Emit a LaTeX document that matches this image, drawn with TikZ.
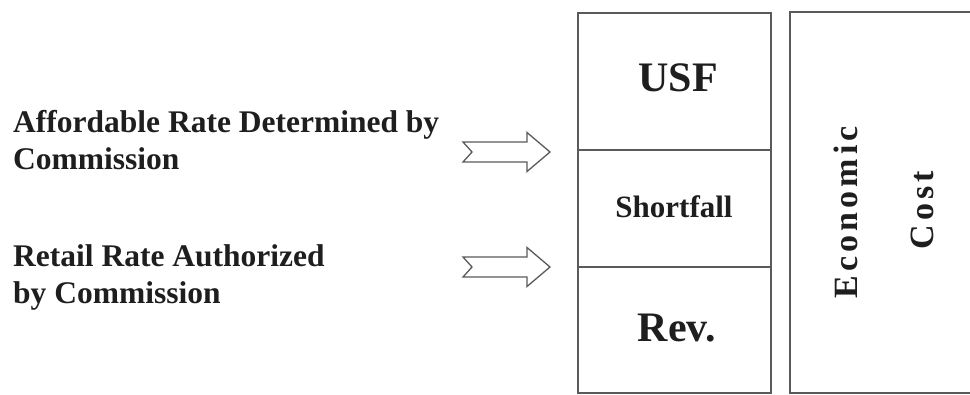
\documentclass[tikz,border=0pt]{standalone}
\usepackage{fontspec}
\setmainfont{Liberation Serif}
\newfontfamily\spacedfont[LetterSpace=12]{Liberation Serif}
\definecolor{ink}{HTML}{1E1E1E}
\definecolor{linegray}{HTML}{5A5A5A}
\begin{document}
\begin{tikzpicture}[x=1pt,y=-1pt,
  lbl/.style={anchor=base west, align=left, inner sep=0pt, text=ink,
              font=\bfseries\fontsize{31.5}{37}\selectfont},
  bigtxt/.style={anchor=base, inner sep=0pt, text=ink,
              font=\bfseries\fontsize{42}{46}\selectfont},
  midtxt/.style={anchor=base, inner sep=0pt, text=ink,
              font=\bfseries\fontsize{31}{36}\selectfont},
  verttxt/.style={anchor=base, inner sep=0pt, text=ink, rotate=90,
              font=\spacedfont\bfseries\fontsize{34}{38}\selectfont},
  boxline/.style={draw=linegray, line width=1.4pt},
  blockarrow/.style={draw=linegray, line width=1.3pt, line join=miter, fill=white}]
\useasboundingbox (0,0) rectangle (970,395);
\clip (0,0) rectangle (970,395);

% left labels (base anchor = baseline of the last line)
\node[lbl] (aff) at (13,170) {Affordable Rate Determined by\\Commission};
\node[lbl] (ret) at (13,304) {Retail Rate Authorized\\by Commission};

% block arrows
\coordinate (a1) at (463,152);
\coordinate (a2) at (463,267);
\foreach \c in {a1,a2}{
  \begin{scope}[shift={(\c)}]
    \draw[blockarrow] (0,-10) -- (64,-10) -- (64,-19.5) -- (87,0) -- (64,19.5)
      -- (64,10) -- (0,10) -- (9,0) -- cycle;
  \end{scope}
}

% stacked box
\draw[boxline] (578,13) rectangle (771,393);
\draw[boxline] (578,150) -- (771,150);
\draw[boxline] (578,267) -- (771,267);
\node[bigtxt] (usf) at (678,92) {USF};
\node[midtxt] (sf) at (674,218) {Shortfall};
\node[bigtxt] (rev) at (677,342) {Rev.};

% economic cost box
\draw[boxline] (980,12) -- (790,12) -- (790,393) -- (980,393);
\node[verttxt] (eco) at (857,212) {Economic};
\node[verttxt] (cost) at (933,210) {Cost};
\end{tikzpicture}
\end{document}
